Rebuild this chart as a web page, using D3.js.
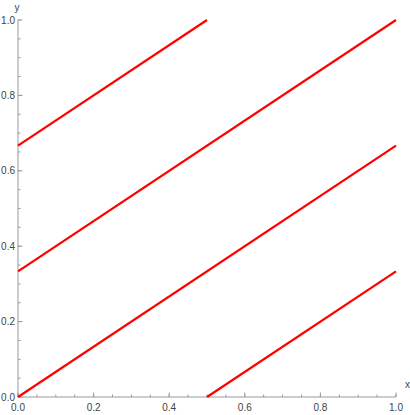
<!DOCTYPE html>
<html>
<head>
<meta charset="utf-8">
<script src="https://cdn.jsdelivr.net/npm/d3@7"></script>
<style>
  body { margin: 0; background: #fff; }
  text { font-family: "Liberation Sans", Arial, sans-serif; }
</style>
</head>
<body>
<svg id="chart" width="410" height="415"></svg>
<script>
// segments of y = (2/3)x + c, clipped to the unit square
var segStartX = [0, 0, 0, 0.5];
var segStartY = [0.6667, 0.3333, 0, 0];
var segEndX = [0.5, 1, 1, 1];
var segEndY = [1, 1, 0.6667, 0.3333];
var majorTicks = [0, 0.2, 0.4, 0.6, 0.8, 1.0];
var minorTicks = d3.range(0, 1.0001, 0.05);

var svg = d3.select("svg#chart"),
    margin = {top: 20, right: 14, bottom: 18, left: 18},
    width = +svg.attr("width") - margin.left - margin.right,
    height = +svg.attr("height") - margin.top - margin.bottom,
    g = svg.append("g").attr("transform", "translate(" + margin.left + "," + margin.top + ")");

var x = d3.scaleLinear().domain([0, 1]).range([0, width]);
var y = d3.scaleLinear().domain([0, 1]).range([height, 0]);

var axisColor = "#999", textColor = "#444";

// axes lines
g.append("line").attr("x1", 0).attr("x2", width).attr("y1", height).attr("y2", height)
  .attr("stroke", axisColor).attr("stroke-width", 1);
g.append("line").attr("x1", 0).attr("x2", 0).attr("y1", 0).attr("y2", height)
  .attr("stroke", axisColor).attr("stroke-width", 1);

// minor ticks
g.selectAll(".xminor").data(minorTicks).enter().append("line")
  .attr("x1", function(d) { return x(d); }).attr("x2", function(d) { return x(d); })
  .attr("y1", height).attr("y2", height - 2.5)
  .attr("stroke", axisColor);
g.selectAll(".yminor").data(minorTicks).enter().append("line")
  .attr("y1", function(d) { return y(d); }).attr("y2", function(d) { return y(d); })
  .attr("x1", 0).attr("x2", 2.5)
  .attr("stroke", axisColor);

// major ticks
g.selectAll(".xmajor").data(majorTicks).enter().append("line")
  .attr("x1", function(d) { return x(d); }).attr("x2", function(d) { return x(d); })
  .attr("y1", height).attr("y2", height - 4.5)
  .attr("stroke", axisColor);
g.selectAll(".ymajor").data(majorTicks).enter().append("line")
  .attr("y1", function(d) { return y(d); }).attr("y2", function(d) { return y(d); })
  .attr("x1", 0).attr("x2", 4.5)
  .attr("stroke", axisColor);

// tick labels
g.selectAll(".xlabel").data(majorTicks).enter().append("text")
  .attr("x", function(d) { return x(d); })
  .attr("y", height + 14)
  .attr("text-anchor", "middle")
  .attr("font-size", 10)
  .attr("fill", textColor)
  .text(function(d) { return d.toFixed(1); });
g.selectAll(".ylabel").data(majorTicks).enter().append("text")
  .attr("x", -3)
  .attr("y", function(d) { return y(d); })
  .attr("dy", "0.35em")
  .attr("text-anchor", "end")
  .attr("font-size", 10)
  .attr("fill", textColor)
  .text(function(d) { return d.toFixed(1); });

// axis names
g.append("text").attr("x", width + 9).attr("y", height - 9)
  .attr("font-size", 10).attr("fill", textColor).text("x");
g.append("text").attr("x", -1).attr("y", -9).attr("text-anchor", "middle")
  .attr("font-size", 10).attr("fill", textColor).text("y");

// lines
var segs = d3.range(segStartX.length).map(function(i) {
  return [[segStartX[i], segStartY[i]], [segEndX[i], segEndY[i]]];
});
var line = d3.line().x(function(d) { return x(d[0]); }).y(function(d) { return y(d[1]); });
g.selectAll(".seg").data(segs).enter().append("path")
  .attr("d", line)
  .attr("fill", "none")
  .attr("stroke", "#ff0000")
  .attr("stroke-width", 2.2);
</script>
</body>
</html>
